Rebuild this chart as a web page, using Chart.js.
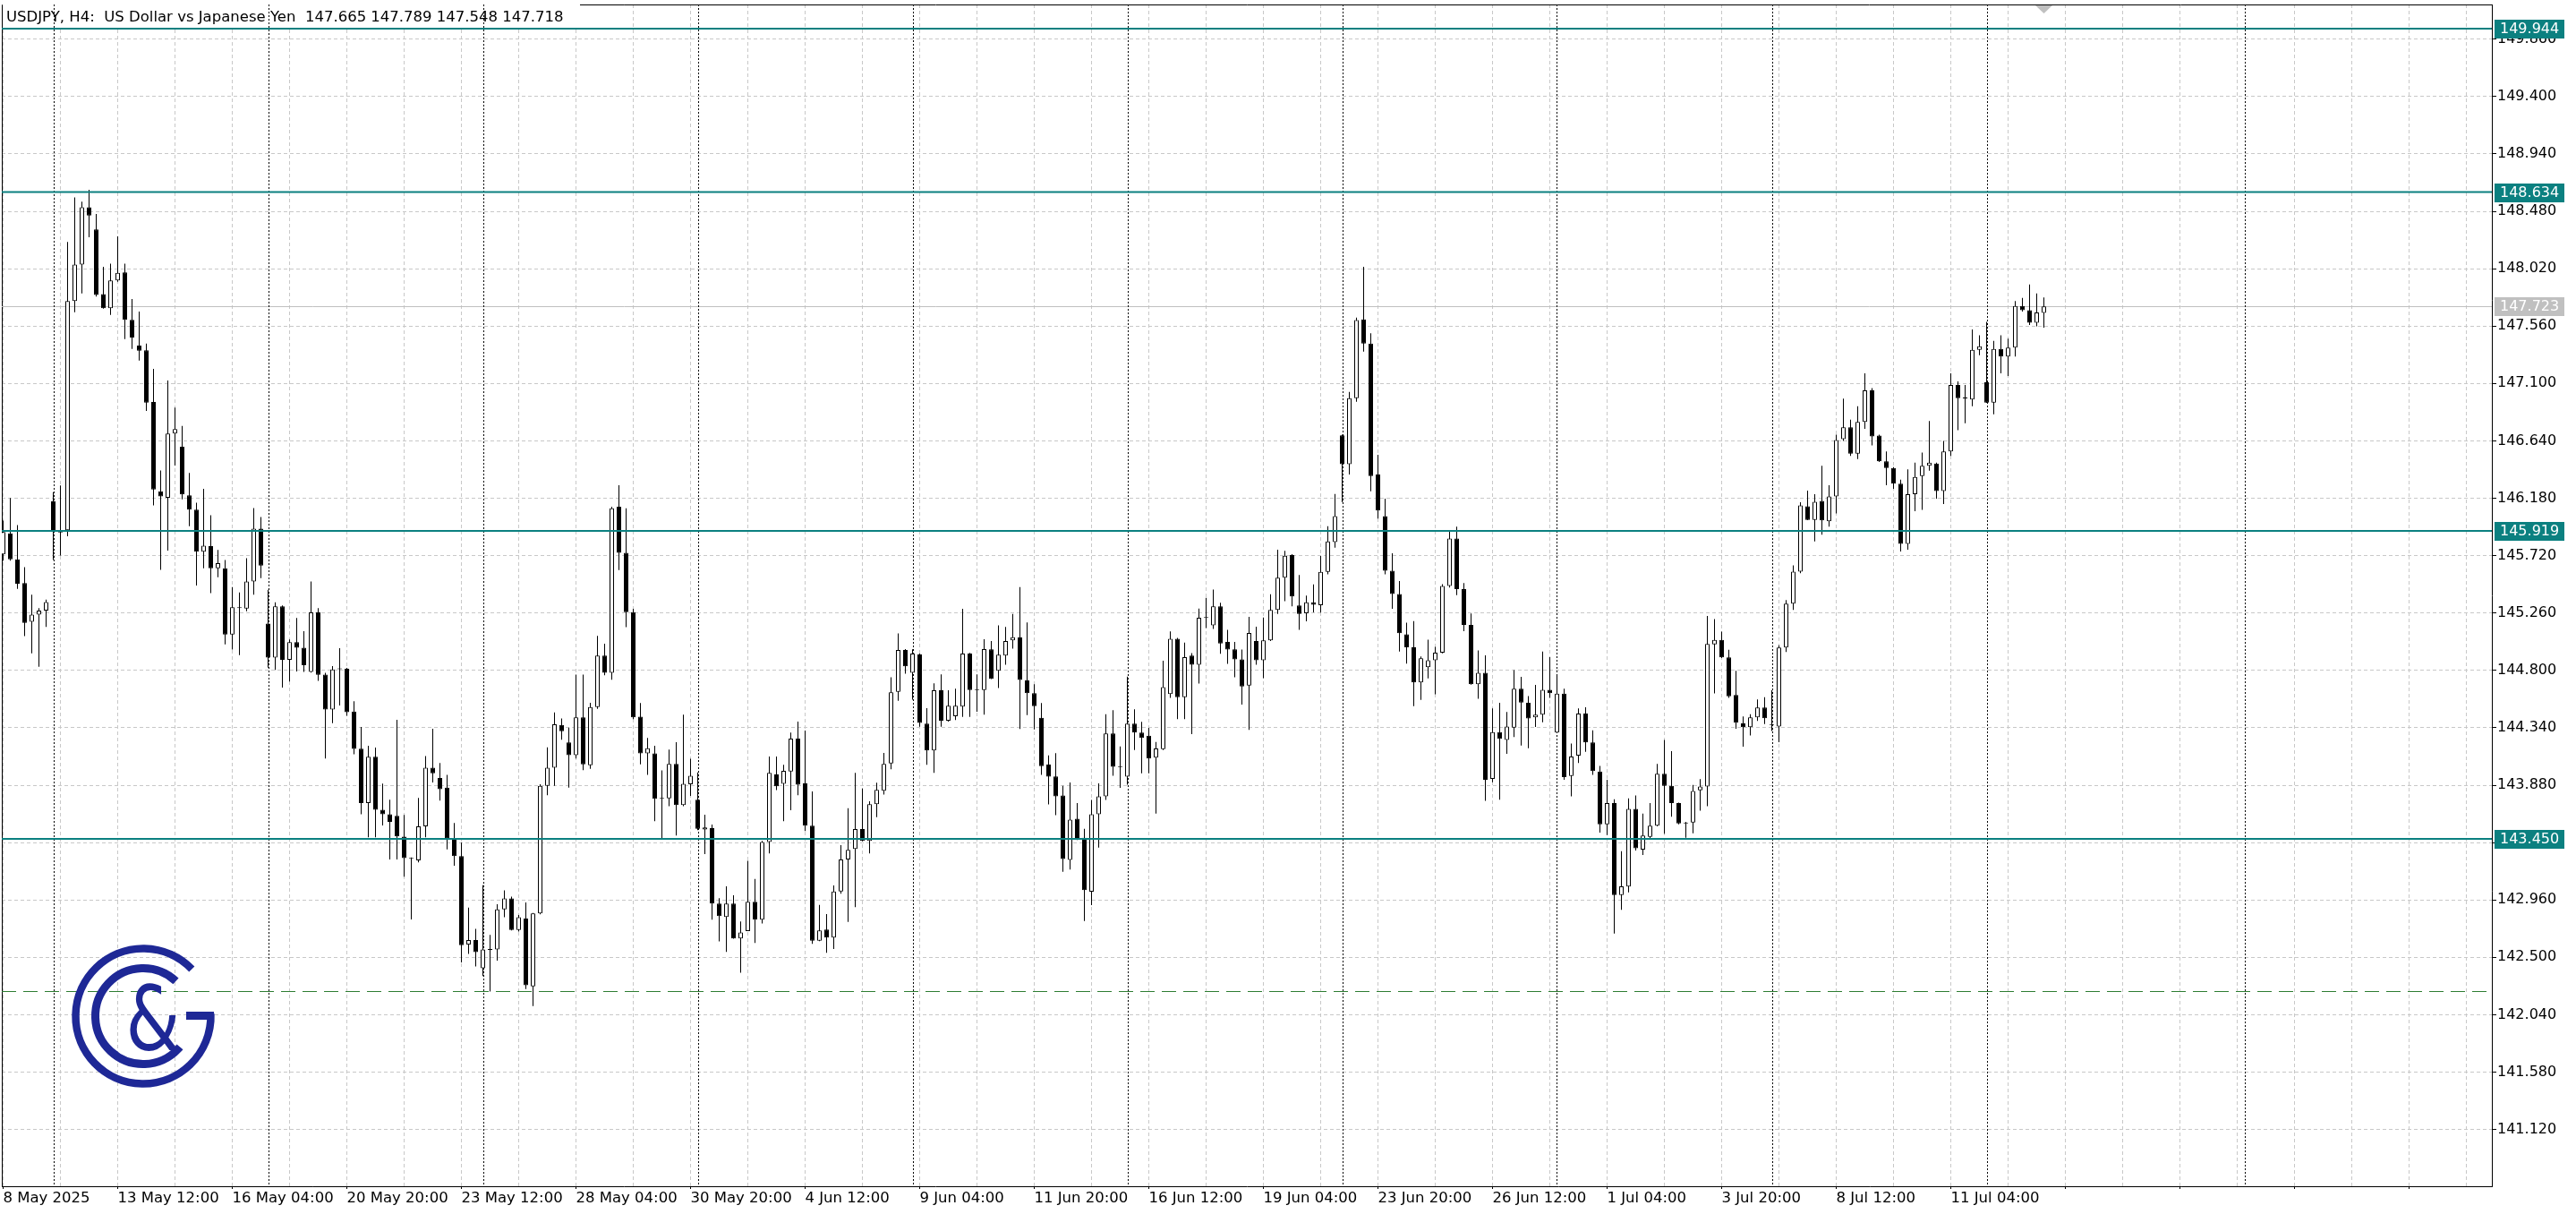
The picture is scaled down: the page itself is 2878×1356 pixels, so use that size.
<!DOCTYPE html>
<html>
<head>
<meta charset="utf-8">
<title>USDJPY H4</title>
<script src="https://cdn.jsdelivr.net/npm/chart.js@4.4.1/dist/chart.umd.min.js"></script>
<style>
  html, body { margin: 0; padding: 0; background: #fff; }
  #chart { display: block; }
</style>
</head>
<body>
<canvas id="chart" width="2878" height="1356"></canvas>
<script>
// time axis labels, one every 16 bars starting at bar 0
const xLabels = ['8 May 2025', '13 May 12:00', '16 May 04:00', '20 May 20:00', '23 May 12:00', '28 May 04:00',
  '30 May 20:00', '4 Jun 12:00', '9 Jun 04:00', '11 Jun 20:00', '16 Jun 12:00', '19 Jun 04:00',
  '23 Jun 20:00', '26 Jun 12:00', '1 Jul 04:00', '3 Jul 20:00', '8 Jul 12:00', '11 Jul 04:00'];

const yTicks = [141.120, 141.580, 142.040, 142.500, 142.960, 143.420, 143.880, 144.340, 144.800, 145.260,
  145.720, 146.180, 146.640, 147.100, 147.560, 148.020, 148.480, 148.940, 149.400, 149.860];

// bars where a new week starts (period separators)
const weekStarts = [7, 37, 67, 97, 127, 157, 187, 217, 247, 277, 313];

const levels = [149.944, 148.634, 145.919, 143.450];
const bidPrice = 147.723;
const dashedLevel = 142.23;

const opens = [
  145.730, 145.898, 145.691, 145.500, 145.189, 145.247, 145.279, 146.155, 145.905, 145.924,
  147.761, 148.053, 148.512, 148.335, 147.817, 147.703, 147.926, 147.990, 147.610, 147.403,
  147.366, 146.951, 146.235, 146.184, 146.699, 146.593, 146.203, 146.089, 145.752, 145.797,
  145.619, 145.619, 145.088, 145.300, 145.295, 145.513, 145.937, 145.176, 144.902, 145.314,
  144.884, 145.027, 144.982, 144.788, 145.266, 144.767, 144.486, 144.810, 144.813, 144.470,
  144.173, 143.737, 144.108, 143.682, 143.646, 143.635, 143.468, 143.295, 143.278, 143.550,
  144.020, 143.937, 143.860, 143.454, 143.311, 142.602, 142.638, 142.413, 142.564, 142.564,
  142.885, 142.973, 142.720, 142.811, 142.267, 142.852, 143.874, 144.020, 144.363, 144.223,
  144.121, 144.423, 144.039, 144.506, 144.918, 144.780, 146.112, 145.742, 145.267, 144.429,
  144.135, 144.135, 143.770, 143.775, 144.050, 143.720, 143.888, 143.763, 143.524, 143.536,
  142.931, 142.823, 142.931, 142.651, 142.711, 142.945, 142.802, 143.424, 143.967, 143.890,
  143.990, 144.254, 143.895, 143.555, 142.634, 142.723, 142.658, 143.027, 143.285, 143.368,
  143.529, 143.433, 143.727, 143.835, 144.055, 144.629, 144.964, 144.780, 144.928, 144.373,
  144.158, 144.641, 144.397, 144.433, 144.510, 144.935, 144.643, 144.643, 144.969, 144.797,
  144.918, 145.040, 145.064, 144.720, 144.618, 144.421, 144.045, 143.950, 143.798, 143.281,
  143.611, 143.458, 143.026, 143.647, 143.790, 144.295, 144.030, 143.948, 144.373, 144.302,
  144.276, 144.101, 144.169, 144.610, 145.054, 144.586, 144.918, 144.846, 145.220, 145.161,
  145.314, 145.028, 144.969, 144.889, 144.678, 145.035, 144.882, 145.040, 145.285, 145.544,
  145.724, 145.321, 145.258, 145.345, 145.323, 145.590, 145.829, 146.685, 146.453, 146.983,
  147.614, 147.420, 146.370, 146.037, 145.599, 145.412, 145.090, 144.986, 144.704, 144.826,
  144.882, 144.942, 145.477, 145.858, 145.451, 145.165, 144.689, 144.781, 143.930, 144.305,
  144.243, 144.341, 144.653, 144.540, 144.424, 144.445, 144.644, 144.302, 144.614, 143.954,
  144.117, 144.454, 144.222, 143.990, 143.567, 143.737, 143.000, 143.068, 143.690, 143.364,
  143.466, 143.556, 143.972, 143.874, 143.737, 143.574, 143.581, 143.838, 143.870, 145.009,
  145.045, 144.904, 144.604, 144.376, 144.344, 144.424, 144.503, 144.365, 144.351, 144.984,
  145.335, 145.591, 146.116, 146.007, 146.159, 145.996, 146.195, 146.654, 146.748, 146.538,
  146.792, 147.045, 146.683, 146.477, 146.423, 146.296, 145.815, 146.213, 146.357, 146.441,
  146.459, 146.238, 146.556, 147.088, 146.983, 146.972, 147.370, 147.110, 146.947, 147.377,
  147.316, 147.388, 147.721, 147.688, 147.587, 147.665
];
const highs = [
  146.000, 146.182, 145.964, 145.627, 145.407, 145.300, 145.367, 146.229, 146.282, 148.234,
  148.592, 148.557, 148.653, 148.459, 148.035, 148.061, 148.279, 148.061, 147.777, 147.676,
  147.419, 147.217, 146.402, 147.124, 146.906, 146.760, 146.383, 146.144, 146.256, 146.044,
  145.765, 145.685, 145.467, 145.425, 145.699, 146.102, 146.030, 145.446, 145.345, 145.320,
  145.048, 145.221, 145.114, 145.513, 145.300, 144.780, 144.835, 144.978, 144.820, 144.552,
  144.346, 144.195, 144.182, 143.893, 143.764, 144.404, 143.641, 143.300, 143.778, 144.113,
  144.333, 144.058, 143.962, 143.577, 143.421, 142.899, 142.729, 143.078, 142.679, 142.926,
  143.036, 142.987, 142.839, 142.940, 142.855, 143.888, 144.184, 144.464, 144.415, 144.341,
  144.767, 144.767, 144.541, 145.077, 145.014, 146.112, 146.285, 146.099, 145.294, 144.539,
  144.259, 144.195, 143.998, 144.165, 144.225, 144.445, 144.091, 143.983, 143.644, 143.565,
  142.974, 143.070, 142.998, 142.787, 143.273, 143.129, 143.433, 144.110, 144.110, 144.043,
  144.301, 144.390, 144.318, 143.830, 142.921, 142.847, 143.077, 143.400, 143.696, 143.979,
  143.854, 143.751, 143.900, 144.139, 144.744, 145.096, 144.971, 144.970, 144.935, 144.498,
  144.696, 144.768, 144.641, 144.653, 145.294, 144.940, 144.768, 145.050, 145.035, 145.161,
  145.149, 145.253, 145.467, 145.185, 144.690, 144.538, 144.118, 144.137, 143.875, 143.902,
  143.737, 143.531, 143.761, 143.895, 144.448, 144.482, 144.191, 144.751, 144.489, 144.387,
  144.339, 144.227, 144.877, 145.113, 145.060, 145.023, 144.938, 145.295, 145.382, 145.448,
  145.343, 145.125, 145.028, 144.967, 145.229, 145.151, 145.224, 145.411, 145.768, 145.758,
  145.731, 145.564, 145.399, 145.489, 145.718, 145.956, 146.215, 146.690, 147.033, 147.628,
  148.036, 147.503, 146.528, 146.177, 145.739, 145.516, 145.183, 145.195, 144.912, 145.046,
  144.989, 145.492, 145.918, 145.953, 145.501, 145.257, 144.960, 144.921, 144.495, 144.540,
  144.466, 144.802, 144.748, 144.594, 144.683, 144.951, 144.906, 144.757, 144.653, 144.213,
  144.495, 144.504, 144.320, 144.034, 143.924, 143.767, 143.350, 143.775, 143.798, 143.653,
  143.737, 144.051, 144.243, 144.152, 143.740, 143.585, 143.881, 143.928, 145.237, 145.212,
  145.110, 144.966, 144.796, 144.431, 144.449, 144.568, 144.586, 144.640, 145.002, 145.363,
  145.642, 146.148, 146.242, 146.213, 146.441, 146.285, 146.690, 146.979, 146.810, 146.918,
  147.182, 147.063, 146.690, 146.556, 146.430, 146.329, 146.412, 146.466, 146.546, 146.799,
  146.466, 146.640, 147.182, 147.117, 147.088, 147.533, 147.486, 147.594, 147.442, 147.486,
  147.460, 147.760, 147.786, 147.894, 147.822, 147.789
];
const lows = [
  145.680, 145.680, 145.454, 145.075, 144.937, 144.830, 145.149, 145.685, 145.720, 145.876,
  147.671, 147.822, 148.273, 147.796, 147.700, 147.650, 147.915, 147.456, 147.376, 147.283,
  146.880, 146.123, 145.606, 145.760, 146.442, 146.171, 145.956, 145.481, 145.619, 145.420,
  145.547, 145.008, 144.968, 144.923, 145.274, 145.407, 145.539, 144.822, 144.804, 144.663,
  144.711, 144.791, 144.788, 144.783, 144.716, 144.094, 144.377, 144.519, 144.437, 144.127,
  143.646, 143.462, 143.462, 143.558, 143.284, 143.284, 143.146, 142.803, 143.262, 143.462,
  143.902, 143.756, 143.366, 143.234, 142.460, 142.528, 142.427, 142.350, 142.226, 142.473,
  142.822, 142.715, 142.707, 142.245, 142.110, 142.844, 143.800, 143.874, 144.245, 143.860,
  144.094, 144.000, 144.011, 144.492, 144.761, 144.725, 145.604, 145.146, 144.410, 144.047,
  143.962, 143.591, 143.448, 143.711, 143.476, 143.711, 143.794, 143.520, 143.328, 142.802,
  142.627, 142.543, 142.650, 142.376, 142.710, 142.615, 142.771, 143.333, 143.840, 143.591,
  143.680, 143.799, 143.512, 142.608, 142.630, 142.536, 142.567, 143.010, 142.783, 142.902,
  143.430, 143.333, 143.624, 143.804, 144.007, 144.557, 144.773, 144.565, 144.349, 144.043,
  143.979, 144.349, 144.390, 144.402, 144.428, 144.428, 144.469, 144.445, 144.730, 144.659,
  144.846, 144.974, 144.331, 144.441, 144.327, 143.963, 143.725, 143.640, 143.186, 143.203,
  143.440, 142.791, 142.919, 143.380, 143.761, 143.955, 143.858, 143.883, 144.162, 143.975,
  143.975, 143.652, 144.162, 144.579, 144.409, 144.409, 144.290, 144.695, 145.139, 145.132,
  144.933, 144.853, 144.744, 144.526, 144.324, 144.846, 144.737, 145.035, 145.253, 145.355,
  145.314, 145.125, 145.193, 145.265, 145.263, 145.570, 145.784, 146.147, 146.370, 146.953,
  147.355, 146.236, 146.016, 145.570, 145.293, 144.951, 144.855, 144.513, 144.564, 144.736,
  144.609, 144.937, 145.465, 145.403, 145.114, 144.685, 144.573, 143.755, 143.903, 143.764,
  144.132, 144.266, 144.198, 144.177, 144.347, 144.385, 144.579, 144.300, 143.924, 143.790,
  144.058, 144.147, 143.963, 143.500, 143.480, 142.690, 142.880, 143.020, 143.357, 143.321,
  143.455, 143.550, 143.491, 143.628, 143.566, 143.458, 143.494, 143.675, 143.711, 144.615,
  144.900, 144.579, 144.333, 144.188, 144.279, 144.395, 144.369, 144.315, 144.225, 144.948,
  145.284, 145.580, 146.004, 145.833, 145.888, 145.953, 146.058, 146.640, 146.520, 146.495,
  146.737, 146.604, 146.470, 146.285, 146.256, 145.754, 145.768, 146.076, 146.087, 146.401,
  146.177, 146.134, 146.520, 146.726, 146.781, 146.918, 147.327, 146.945, 146.853, 147.182,
  147.160, 147.316, 147.677, 147.569, 147.558, 147.548
];
const closes = [
  145.910, 145.690, 145.494, 145.181, 145.247, 145.279, 145.348, 145.911, 145.915, 147.761,
  148.053, 148.512, 148.446, 147.809, 147.703, 147.926, 147.987, 147.610, 147.469, 147.363,
  146.946, 146.251, 146.195, 146.699, 146.734, 146.211, 146.089, 145.752, 145.799, 145.619,
  145.659, 145.088, 145.306, 145.305, 145.513, 145.937, 145.640, 144.902, 145.314, 144.884,
  145.027, 144.982, 144.841, 145.266, 144.764, 144.486, 144.808, 144.815, 144.465, 144.171,
  143.737, 144.108, 143.682, 143.646, 143.586, 143.470, 143.295, 143.290, 143.550, 144.020,
  143.976, 143.847, 143.454, 143.311, 142.597, 142.638, 142.542, 142.564, 142.560, 142.885,
  142.973, 142.720, 142.822, 142.276, 142.852, 143.874, 144.020, 144.368, 144.313, 144.121,
  144.423, 144.047, 144.506, 144.918, 144.780, 146.099, 145.742, 145.267, 144.423, 144.135,
  144.176, 143.770, 143.775, 144.050, 143.720, 143.890, 143.955, 143.531, 143.541, 142.931,
  142.830, 142.931, 142.651, 142.699, 142.945, 142.802, 143.424, 143.979, 143.871, 143.995,
  144.254, 143.883, 143.555, 142.634, 142.715, 142.658, 143.027, 143.285, 143.361, 143.529,
  143.433, 143.727, 143.842, 144.050, 144.624, 144.964, 144.832, 144.935, 144.378, 144.158,
  144.641, 144.397, 144.517, 144.517, 144.935, 144.643, 144.645, 144.971, 144.732, 144.926,
  145.035, 145.066, 144.724, 144.618, 144.513, 144.033, 143.948, 143.790, 143.288, 143.604,
  143.446, 143.038, 143.647, 143.790, 144.295, 144.028, 144.025, 144.373, 144.302, 144.259,
  144.094, 144.174, 144.666, 145.054, 144.586, 144.906, 144.846, 145.222, 145.222, 145.314,
  145.016, 144.967, 144.889, 144.671, 145.100, 144.882, 145.040, 145.285, 145.544, 145.719,
  145.392, 145.253, 145.345, 145.326, 145.590, 145.834, 146.037, 146.453, 146.983, 147.608,
  147.420, 146.358, 146.081, 145.599, 145.412, 145.099, 144.986, 144.704, 144.897, 144.882,
  144.942, 145.477, 145.858, 145.451, 145.165, 144.689, 144.781, 143.924, 144.305, 144.251,
  144.350, 144.653, 144.543, 144.415, 144.445, 144.644, 144.617, 144.614, 143.945, 144.109,
  144.454, 144.222, 143.993, 143.567, 143.737, 143.000, 143.070, 143.690, 143.375, 143.476,
  143.556, 143.972, 143.874, 143.737, 143.574, 143.580, 143.834, 143.870, 145.013, 145.045,
  144.904, 144.593, 144.380, 144.344, 144.424, 144.503, 144.416, 144.362, 144.984, 145.335,
  145.591, 146.123, 146.007, 146.152, 146.003, 146.195, 146.647, 146.748, 146.538, 146.792,
  147.045, 146.676, 146.477, 146.423, 146.296, 145.815, 146.213, 146.350, 146.441, 146.466,
  146.238, 146.556, 147.088, 146.983, 146.980, 147.370, 147.399, 146.947, 147.377, 147.316,
  147.388, 147.721, 147.688, 147.587, 147.670, 147.718
];

const TITLE = 'USDJPY, H4:  US Dollar vs Japanese Yen  147.665 147.789 147.548 147.718';
const AXIS_FONT = 'DejaVu Sans';
const TEAL = '#0b8080';

// vertical grid every 8 bars, labels on every second one
const gridBars = [];
for (let b = 0; b <= 344; b += 8) gridBars.push(b);

const bars = opens.map((o, i) => i);
const bodyData = bars.map(i => ({ x: i, y: [opens[i], closes[i]] }));
const wickData = bars.map(i => ({ x: i, y: [lows[i], highs[i]] }));
const bodyColors = bars.map(i => closes[i] >= opens[i] ? '#ffffff' : '#000000');

function hLine(ctx, area, yPix, color, width, dash) {
    ctx.save();
    ctx.strokeStyle = color;
    ctx.lineWidth = width;
    ctx.setLineDash(dash || []);
    ctx.beginPath();
    ctx.moveTo(area.left, yPix);
    ctx.lineTo(area.right, yPix);
    ctx.stroke();
    ctx.restore();
}

function priceTag(ctx, yPix, text, bg) {
    ctx.fillStyle = bg;
    ctx.fillRect(2787, Math.round(yPix) - 10, 78, 21);
    ctx.fillStyle = '#ffffff';
    ctx.font = '16px ' + AXIS_FONT;
    ctx.textAlign = 'left';
    ctx.textBaseline = 'middle';
    ctx.fillText(text, 2793, yPix + 1);
}

function drawLogo(ctx) {
    const cx = 160, cy = 1135, d = Math.PI / 180;
    ctx.save();
    ctx.strokeStyle = '#1e2896';
    ctx.fillStyle = '#1e2896';
    ctx.lineWidth = 8.5;
    ctx.beginPath();
    ctx.arc(cx, cy, 75.5, -44 * d, -2 * d, true);
    ctx.stroke();
    ctx.fillRect(cx + 48, cy - 5, 31, 9);
    ctx.lineWidth = 9;
    ctx.beginPath();
    ctx.arc(cx, cy, 53.5, -47 * d, 40 * d, true);
    ctx.stroke();
    ctx.translate(171, 1173);
    ctx.scale(0.78, 1);
    ctx.font = '100px DejaVu Sans';
    ctx.textAlign = 'center';
    ctx.textBaseline = 'alphabetic';
    ctx.fillText('&', 0, 0);
    ctx.restore();
}

const overlay = {
    id: 'overlay',
    beforeDatasetsDraw(chart) {
        const { ctx, chartArea: a, scales: { x, y } } = chart;
        ctx.save();
        // frame (left and top)
        ctx.strokeStyle = '#000';
        ctx.lineWidth = 1;
        ctx.beginPath();
        ctx.moveTo(a.left + 0.5, a.bottom);
        ctx.lineTo(a.left + 0.5, a.top + 0.5);
        ctx.lineTo(a.right, a.top + 0.5);
        ctx.stroke();

        // bid line
        hLine(ctx, a, Math.round(y.getPixelForValue(bidPrice)) + 0.5, '#c0c0c0', 1);

        // title
        ctx.fillStyle = '#ffffff';
        ctx.fillRect(a.left + 1, 0, 645, 31);
        ctx.fillStyle = '#000';
        ctx.font = '16.5px ' + AXIS_FONT;
        ctx.textAlign = 'left';
        ctx.textBaseline = 'alphabetic';
        ctx.fillText(TITLE, 7, 24);

        // period separators
        ctx.strokeStyle = '#000';
        ctx.setLineDash([2, 2]);
        weekStarts.forEach(b => {
            const px = Math.round(x.getPixelForValue(b)) + 0.5;
            ctx.beginPath();
            ctx.moveTo(px, a.top);
            ctx.lineTo(px, a.bottom);
            ctx.stroke();
        });
        ctx.restore();
    },
    afterDatasetsDraw(chart) {
        const { ctx, chartArea: a, scales: { x, y } } = chart;
        levels.forEach(v => hLine(ctx, a, y.getPixelForValue(v), TEAL, 2));
        hLine(ctx, a, Math.round(y.getPixelForValue(dashedLevel)) + 0.5, '#2e7d32', 1, [16, 8]);
        drawLogo(ctx);

        // chart shift marker
        const sx = x.getPixelForValue(opens.length - 1);
        ctx.save();
        ctx.fillStyle = '#c0c0c0';
        ctx.beginPath();
        ctx.moveTo(sx - 9.5, a.top + 1);
        ctx.lineTo(sx + 9.5, a.top + 1);
        ctx.lineTo(sx, a.top + 10);
        ctx.closePath();
        ctx.fill();
        ctx.restore();
    },
    afterDraw(chart) {
        const { ctx, scales: { y } } = chart;
        ctx.save();
        levels.forEach(v => priceTag(ctx, y.getPixelForValue(v), v.toFixed(3), TEAL));
        priceTag(ctx, y.getPixelForValue(bidPrice), bidPrice.toFixed(3), '#c0c0c0');
        ctx.restore();
    }
};

new Chart(document.getElementById('chart'), {
    type: 'bar',
    data: {
        datasets: [
            {
                label: 'body', data: bodyData, backgroundColor: bodyColors, borderColor: '#000',
                borderWidth: 1, borderSkipped: false, barThickness: 5, minBarLength: 1,
                grouped: false, inflateAmount: 0, order: 1
            },
            {
                label: 'wick', data: wickData, backgroundColor: '#000', borderWidth: 0,
                barThickness: 1, grouped: false, inflateAmount: 0, order: 2
            }
        ]
    },
    options: {
        responsive: false,
        animation: false,
        devicePixelRatio: 1,
        layout: { autoPadding: false, padding: { left: 2, top: 5, right: 0, bottom: 0 } },
        plugins: { legend: { display: false }, tooltip: { enabled: false } },
        scales: {
            x: {
                type: 'linear',
                offset: false,
                min: -0.1875,
                max: 347.5625,
                afterBuildTicks: s => { s.ticks = gridBars.map(v => ({ value: v })); },
                afterFit: s => { s.height = 31; s.paddingLeft = 0; s.paddingRight = 0; },
                grid: {
                    offset: false,
                    color: '#c8c8c8',
                    tickLength: 3,
                    tickBorderDash: [],
                    tickColor: c => (c.tick && c.tick.value % 16 === 0) ? '#000' : 'rgba(0,0,0,0)'
                },
                border: { color: '#000', width: 1, dash: [4, 3] },
                ticks: {
                    autoSkip: false, maxRotation: 0, minRotation: 0, align: 'start', padding: 1,
                    color: '#000', font: { family: AXIS_FONT, size: 16.5 },
                    callback: v => (v % 16 === 0 && v / 16 < xLabels.length) ? xLabels[v / 16] : ''
                }
            },
            y: {
                position: 'right',
                min: 140.665,
                max: 150.138,
                afterBuildTicks: s => { s.ticks = yTicks.map(v => ({ value: v })); },
                afterFit: s => { s.width = 94; s.paddingTop = 0; s.paddingBottom = 0; },
                grid: { color: '#c8c8c8', tickColor: '#000', tickLength: 5, tickBorderDash: [] },
                border: { color: '#000', width: 1, dash: [4, 3] },
                ticks: {
                    autoSkip: false, padding: 1, color: '#000',
                    font: { family: AXIS_FONT, size: 16 },
                    callback: v => v.toFixed(3)
                }
            }
        }
    },
    plugins: [overlay]
});
</script>
</body>
</html>
